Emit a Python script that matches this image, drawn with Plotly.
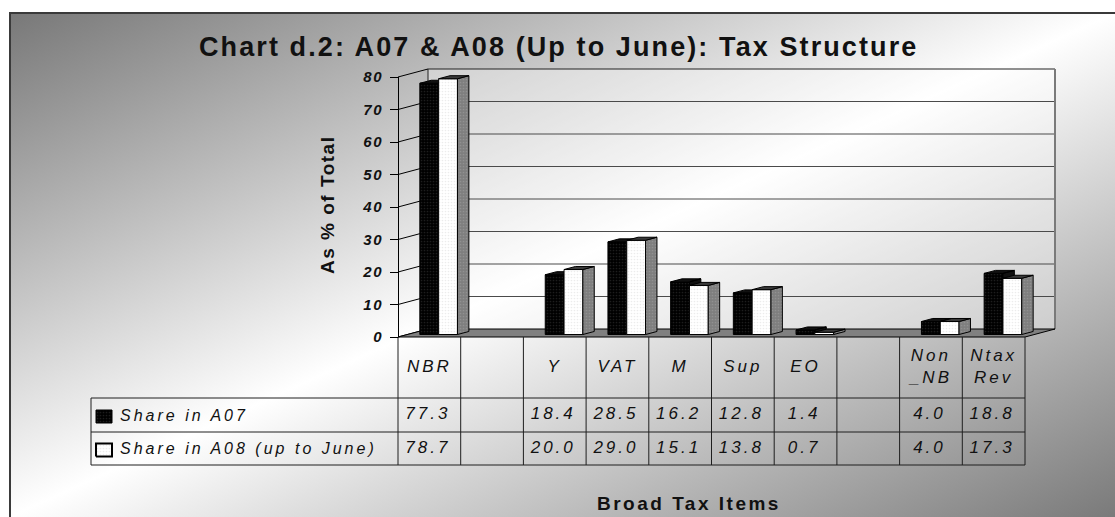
import base64
import plotly.graph_objects as go

# ---------------- data ----------------
categories = ["NBR", "", "Y", "VAT", "M", "Sup", "EO", "", "Non<br>_NB", "Ntax<br>Rev"]
share_a07 = [77.3, None, 18.4, 28.5, 16.2, 12.8, 1.4, None, 4.0, 18.8]
share_a08 = [78.7, None, 20.0, 29.0, 15.1, 13.8, 0.7, None, 4.0, 17.3]
series_names = ["Share in A07", "Share in A08 (up to June)"]
y_ticks = [0, 10, 20, 30, 40, 50, 60, 70, 80]
chart_title = "Chart d.2: A07 & A08 (Up to June): Tax Structure"
y_title = "As % of Total"
x_title = "Broad Tax Items"

# ---------------- geometry / style ----------------
W, H = 1115, 517
AX_X = 398          # pixel x of front-left floor corner
AX_Y0 = 337         # pixel y of value 0 on the front plane
CAT_PX = 62.7       # pixel width of one category
UNIT_PX = 3.25      # pixels per value unit
DEPTH_DX_PX, DEPTH_DY_PX = 30, 8
YMAX = 80
GAP, BAR_W = 0.2, 0.3
D0, D1 = 0.31, 0.69
TABLE_LEFT_PX = 91
ROW_PX = [337, 398, 432, 465]
FONT = "Liberation Sans"

DX = DEPTH_DX_PX / CAT_PX
DY = DEPTH_DY_PX / UNIT_PX
n = len(categories)


def px_x(px):
    return (px - AX_X) / CAT_PX


def px_y(py):
    return (AX_Y0 - py) / UNIT_PX


def ls(text, sp):
    return "<br>".join(f'<span style="letter-spacing:{sp}px">{t}</span>' for t in text.split("<br>"))


fig = go.Figure()


def add_poly(polys, fill, line_color="black", lw=1, pattern=None):
    xs, ys = [], []
    for p in polys:
        for (a, b) in p:
            xs.append(a)
            ys.append(b)
        xs.append(p[0][0]); ys.append(p[0][1])
        xs.append(None); ys.append(None)
    fig.add_trace(go.Scatter(x=xs, y=ys, mode="lines", fill="toself", fillcolor=fill,
                             fillpattern=pattern, line=dict(color=line_color, width=lw),
                             hoverinfo="skip", showlegend=False))


def add_lines(segs, color="black", lw=1):
    xs, ys = [], []
    for (a, b), (c, d) in segs:
        xs += [a, c, None]
        ys += [b, d, None]
    fig.add_trace(go.Scatter(x=xs, y=ys, mode="lines", line=dict(color=color, width=lw),
                             hoverinfo="skip", showlegend=False))


# back wall
add_poly([[(DX, DY), (n + DX, DY), (n + DX, YMAX + DY), (DX, YMAX + DY)]],
         "rgba(255,255,255,0.35)", line_color="rgba(0,0,0,0)", lw=0)
add_lines([((DX, v + DY), (n + DX, v + DY)) for v in y_ticks[1:-1]], color="#4a4a4a", lw=1)
add_lines([((DX, YMAX + DY), (n + DX, YMAX + DY)), ((DX, DY), (DX, YMAX + DY))], color="#222", lw=1)
add_lines([((n + DX, DY), (n + DX, YMAX + DY))], color="#7a7a7a", lw=2)

# side-wall gridline stubs
add_lines([((0, v), (DX, v + DY)) for v in y_ticks], color="black", lw=1)

# floor
add_poly([[(0, 0), (n, 0), (n + DX, DY), (DX, DY)]], "#808080", line_color="black", lw=1)

# bars
dd = D1 - D0
pat_black = dict(shape=".", bgcolor="#000000", fgcolor="#3a3a3a", size=3, solidity=0.25)
pat_white = dict(shape=".", bgcolor="#ffffff", fgcolor="#dadada", size=3, solidity=0.25)
pat_side = dict(shape=".", bgcolor="#7e7e7e", fgcolor="#a4a4a4", size=3, solidity=0.25)


def bar_faces(vals, s):
    fronts, tops, sides = [], [], []
    for i, v in enumerate(vals):
        if v is None:
            continue
        x0 = i + GAP + s * BAR_W + D0 * DX
        x1 = x0 + BAR_W
        yb = D0 * DY
        yt = v + D0 * DY
        fronts.append([(x0, yb), (x1, yb), (x1, yt), (x0, yt)])
        tops.append([(x0, yt), (x1, yt), (x1 + dd * DX, yt + dd * DY), (x0 + dd * DX, yt + dd * DY)])
        sides.append([(x1, yb), (x1 + dd * DX, yb + dd * DY), (x1 + dd * DX, yt + dd * DY), (x1, yt)])
    return fronts, tops, sides


bf, bt, bs = bar_faces(share_a07, 0)
wf, wt, ws = bar_faces(share_a08, 1)
add_poly(bf, "#000000", pattern=pat_black)
add_poly(bt + bs, "#111111")
add_poly(wf, "#ffffff", pattern=pat_white)
add_poly(ws, "#7e7e7e", pattern=pat_side)
add_poly(wt, "#3a3a3a")

# data table grid
yr = [px_y(p) for p in ROW_PX]
segs = [((i, yr[0]), (i, yr[-1])) for i in range(n + 1)]
segs += [((px_x(TABLE_LEFT_PX), y), (n, y)) for y in yr[1:]]
segs += [((px_x(TABLE_LEFT_PX), yr[1]), (px_x(TABLE_LEFT_PX), yr[-1]))]
add_lines(segs, color="#1e1e1e", lw=1)

# category labels
fig.add_trace(go.Scatter(
    x=[i + 0.5 for i in range(n)], y=[(yr[0] + yr[1]) / 2] * n, mode="text",
    text=[ls(c, 3) for c in categories], textposition="middle center",
    textfont=dict(family=FONT, size=17, style="italic", color="#111"),
    hoverinfo="skip", showlegend=False))

# values rows
for r, vals in enumerate([share_a07, share_a08]):
    fig.add_trace(go.Scatter(
        x=[i + 0.5 - 1.5 / CAT_PX for i in range(n)], y=[(yr[r + 1] + yr[r + 2]) / 2] * n,
        mode="text",
        text=[ls(f"{v:.1f}", 3) if v is not None else "" for v in vals],
        textposition="middle center",
        textfont=dict(family=FONT, size=17, style="italic", color="#111"),
        hoverinfo="skip", showlegend=False))

# legend keys in table
sw_x0, sw_x1 = px_x(96), px_x(112)
for r, name in enumerate(series_names):
    yc = (yr[r + 1] + yr[r + 2]) / 2 - 1.5 / UNIT_PX
    h = 6.5 / UNIT_PX
    sq = [[(sw_x0, yc - h), (sw_x1, yc - h), (sw_x1, yc + h), (sw_x0, yc + h)]]
    if r == 0:
        add_poly(sq, "#000", pattern=pat_black)
    else:
        add_poly(sq, "#fff", pattern=pat_white, lw=2)
    fig.add_annotation(x=px_x(118), y=(yr[r + 1] + yr[r + 2]) / 2, xref="x", yref="y",
                       text=ls(name, 3), showarrow=False, xanchor="left", yanchor="middle",
                       font=dict(family=FONT, size=16, style="italic", color="#111"))

# dummy trace for the value axis
fig.add_trace(go.Scatter(x=[None], y=[None], yaxis="y2", hoverinfo="skip", showlegend=False))

# titles
fig.add_annotation(x=558 / W, y=1 - 47 / H, xref="paper", yref="paper", text=ls(chart_title, 2.1),
                   showarrow=False, xanchor="center", yanchor="middle",
                   font=dict(family=FONT, size=27, weight="bold", color="#111"))
fig.add_annotation(x=327 / W, y=1 - 205 / H, xref="paper", yref="paper", text=ls(y_title, 1.5),
                   showarrow=False, textangle=-90, xanchor="center", yanchor="middle",
                   font=dict(family=FONT, size=19, weight="bold", color="#111"))
fig.add_annotation(x=689 / W, y=1 - 503 / H, xref="paper", yref="paper", text=ls(x_title, 2.5),
                   showarrow=False, xanchor="center", yanchor="middle",
                   font=dict(family=FONT, size=19, weight="bold", color="#111"))

# background gradient frame
fw, fh = W - 10, H - 13
svg = (f'<svg xmlns="http://www.w3.org/2000/svg" width="{fw}" height="{fh}" viewBox="0 0 {fw} {fh}" '
       f'preserveAspectRatio="none"><defs><linearGradient id="g" x1="0" y1="0" x2="1" y2="1">'
       f'<stop offset="0" stop-color="#787878"/><stop offset="0.5" stop-color="#ffffff"/>'
       f'<stop offset="1" stop-color="#7a7a7a"/></linearGradient></defs>'
       f'<rect width="{fw}" height="{fh}" fill="url(#g)"/></svg>')
src = "data:image/svg+xml;base64," + base64.b64encode(svg.encode()).decode()

fig.update_layout(
    width=W, height=H, margin=dict(l=0, r=0, t=0, b=0, pad=0, autoexpand=False),
    paper_bgcolor="white", plot_bgcolor="rgba(0,0,0,0)", showlegend=False, hovermode=False,
    xaxis=dict(visible=False, range=[px_x(0), px_x(W)], domain=[0, 1], fixedrange=True, automargin=False),
    yaxis=dict(visible=False, range=[px_y(H), px_y(0)], domain=[0, 1], fixedrange=True, automargin=False),
    yaxis2=dict(range=[0, YMAX], domain=[1 - AX_Y0 / H, 1 - (AX_Y0 - YMAX * UNIT_PX) / H],
                anchor="free", position=AX_X / W, side="left", automargin=False,
                tickvals=y_ticks, ticktext=[ls(str(t), 1.5) for t in y_ticks],
                ticks="outside", ticklen=8, tickcolor="black", tickwidth=1,
                showline=True, linecolor="black", linewidth=1, showgrid=False, zeroline=False,
                ticklabelstandoff=4, fixedrange=True,
                tickfont=dict(family=FONT, size=15, weight="bold", style="italic", color="#111")),
    images=[dict(source=src, xref="paper", yref="paper", x=10 / W, y=1 - 13 / H,
                 sizex=fw / W, sizey=fh / H, xanchor="left", yanchor="top",
                 sizing="stretch", layer="below")],
    shapes=[dict(type="rect", xref="paper", yref="paper", x0=10 / W, x1=1.02, y0=-0.02, y1=1 - 13 / H,
                 line=dict(color="#3a3a3a", width=2), fillcolor="rgba(0,0,0,0)", layer="above")],
)

fig.write_html("out.html", config={"displayModeBar": False},
               post_script="document.body.style.margin='0';")
